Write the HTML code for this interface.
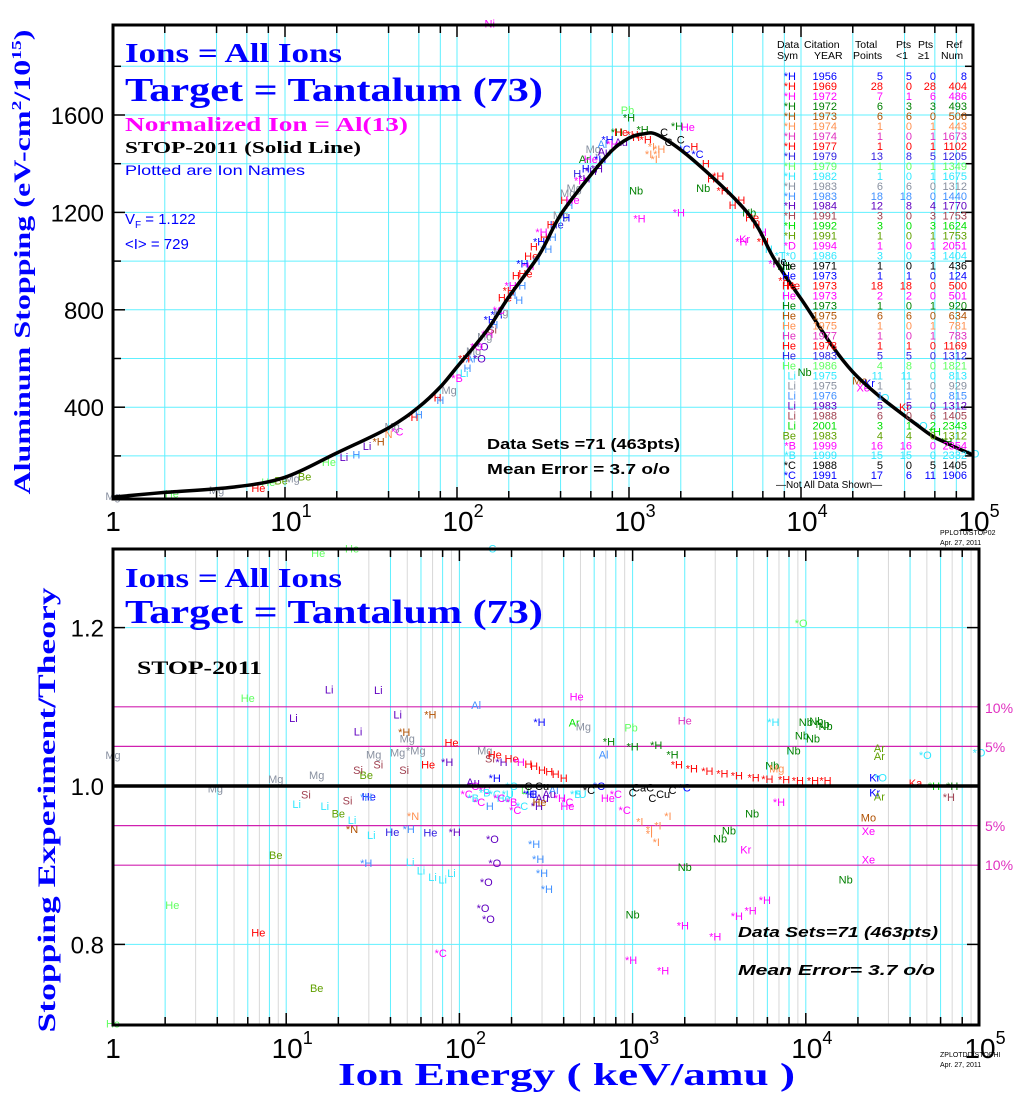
<!DOCTYPE html>
<html><head><meta charset="utf-8"><style>
html,body{margin:0;padding:0;background:#fff;}
svg{display:block;}
text{font-family:"Liberation Sans",sans-serif;}
.serif{font-family:"Liberation Serif",serif;font-weight:bold;}
</style></head><body>
<svg id="chart" width="1023" height="1099" viewBox="0 0 1023 1099" xmlns="http://www.w3.org/2000/svg">
<g id="grid"></g>
<g id="marks"></g>
<g id="frames"></g>
<g id="texts">
<text class="serif" x="125" y="62" font-size="27" fill="#0000ff" textLength="217" lengthAdjust="spacingAndGlyphs">Ions = All Ions</text>
<text class="serif" x="125" y="101" font-size="34" fill="#0000ff" textLength="418" lengthAdjust="spacingAndGlyphs">Target = Tantalum (73)</text>
<text class="serif" x="125" y="131" font-size="20" fill="#ff00ff" textLength="283" lengthAdjust="spacingAndGlyphs">Normalized Ion = Al(13)</text>
<text class="serif" x="125" y="153" font-size="17" fill="#000" textLength="236" lengthAdjust="spacingAndGlyphs">STOP-2011 (Solid Line)</text>
<text x="125" y="175" font-size="14" fill="#0000ff" textLength="180" lengthAdjust="spacingAndGlyphs">Plotted are Ion Names</text>
<text x="125" y="224" font-size="15" fill="#0000ff">V<tspan font-size="10" dy="4">F</tspan><tspan dy="-4"> = 1.122</tspan></text>
<text x="125" y="249" font-size="15" fill="#0000ff">&lt;I&gt; = 729</text>
<text x="487" y="449" font-size="15" fill="#000" font-weight="bold" textLength="193" lengthAdjust="spacingAndGlyphs">Data Sets =71 (463pts)</text>
<text x="487" y="474" font-size="15" fill="#000" font-weight="bold" textLength="183" lengthAdjust="spacingAndGlyphs">Mean Error =  3.7 o/o</text>
<text class="serif" transform="translate(30,262) rotate(-90)" text-anchor="middle" font-size="23" fill="#0000ff" textLength="465" lengthAdjust="spacingAndGlyphs">Aluminum Stopping (eV-cm<tspan font-size="14" dy="-9">2</tspan><tspan dy="9">/10</tspan><tspan font-size="14" dy="-9">15</tspan><tspan dy="9">)</tspan></text>
<text font-size="7" x="940" y="535" fill="#000">PPLOT0/STOP02</text>
<text font-size="7" x="940" y="545" fill="#000">Apr. 27, 2011</text>

<text class="serif" x="125" y="587" font-size="27" fill="#0000ff" textLength="217" lengthAdjust="spacingAndGlyphs">Ions = All Ions</text>
<text class="serif" x="125" y="623" font-size="34" fill="#0000ff" textLength="418" lengthAdjust="spacingAndGlyphs">Target = Tantalum (73)</text>
<text class="serif" x="137" y="674" font-size="19" fill="#000" textLength="125" lengthAdjust="spacingAndGlyphs">STOP-2011</text>
<text x="738" y="937" font-size="15" font-style="italic" font-weight="bold" fill="#000" textLength="200" lengthAdjust="spacingAndGlyphs">Data Sets=71 (463pts)</text>
<text x="738" y="975" font-size="15" font-style="italic" font-weight="bold" fill="#000" textLength="197" lengthAdjust="spacingAndGlyphs">Mean Error=  3.7 o/o</text>
<text class="serif" transform="translate(55,810) rotate(-90)" text-anchor="middle" font-size="25" fill="#0000ff" textLength="445" lengthAdjust="spacingAndGlyphs">Stopping  Experiment/Theory</text>
<text class="serif" x="338" y="1085" font-size="32" fill="#0000ff" textLength="457" lengthAdjust="spacingAndGlyphs">Ion  Energy  ( keV/amu )</text>
<text font-size="7" x="940" y="1057" fill="#000">ZPLOTDD/STOPHI</text>
<text font-size="7" x="940" y="1067" fill="#000">Apr. 27, 2011</text>
<text x="985" y="713" font-size="14" fill="#e030c0">10%</text>
<text x="985" y="752" font-size="14" fill="#e030c0">5%</text>
<text x="985" y="831" font-size="14" fill="#e030c0">5%</text>
<text x="985" y="870" font-size="14" fill="#e030c0">10%</text>
</g>
<g id="legend"></g>
</svg>
<script>
var NS="http://www.w3.org/2000/svg";
// ---- data ----
var curveE=[1,2,5,10,20,40,60,80,100,150,200,300,400,600,800,1000,1200,1500,2500,5000,7000,10000,20000,50000,70000,100000];
var curveV=[31,50,72,112,212,315,401,483,565,717,853,1025,1190,1354,1456,1505,1522,1515,1400,1190,1008,845,545,314,253,204];
var yTicksTop=[400,800,1200,1600];
var yTicksBottom=[0.8,1.0,1.2];
var pctLines=[1.10,1.05,0.95,0.90];
var xTickExp=[0,1,2,3,4,5];
var B='#0000ff',R='#ff0000',M='#ff00ff',G='#008000',BR='#b05000',OR='#ff9050',PM='#e030c0',BV='#3020e0',LG='#60ff60',CY='#30e8ff',GR='#8890a0',CB='#4090ff',PU='#6000c0',RO='#a04050',LM='#00e000',OL='#60a000',K='#000000';
var topE=[1,2.2,4,7,8,9.5,13,11,18,22,26,30,35,40,45,42,55,60,75,80,90,100,110,120,125,135,140,150,160,170,180,200,210,230,250,260,280,300,320,330,380,400,420,450,480,500,550,550,600,620,650,700,750,850,900,980,1000,1100,1200,1300,1400,1500,1600,1900,2200,2000,2400,2500,1100,1150,1950,2700,3000,3500,4000,4500,4700,5000,5500,6000,6500,7000,7500,8000,9000,10500,22000,23000,25000,30000,40000,50000,60000,70000,100000,155,
110,115,130,145,155,165,175,190,205,220,240,240,270,290,310,350,360,420,440,470,520,560,600,680,720,800,900,1050,1250,1350,1450,1700,2100,2800,3300,4500,5200,6000,8000];
var topV=[36,45,60,68,92,100,115,108,175,195,205,240,260,290,300,320,360,370,440,430,470,520,540,600,630,600,650,700,720,780,790,880,860,840,950,980,1060,1080,1100,1050,1150,1190,1250,1230,1300,1360,1340,1420,1420,1460,1380,1480,1500,1530,1490,1620,1590,1510,1540,1440,1420,1460,1530,1555,1550,1500,1470,1440,1290,1175,1200,1300,1340,1290,1230,1080,1090,1200,1150,1080,1050,990,1000,980,900,545,510,480,500,440,400,325,300,260,210,1975,
600,560,650,690,760,740,800,850,900,940,900,990,1020,1000,1120,1150,1100,1180,1280,1250,1330,1380,1370,1420,1450,1480,1530,1520,1500,1470,1440,1490,1460,1400,1350,1250,1180,1120,920];
var topLbl=['Mg','He','Mg','He','He','Be','Be','Mg','He','Li','H','Li','*H','N','*C','Mg','*H','H','*H','H','Mg','*B','Li','Al','Mg','*O','*O','*H','Si','*H','Mg','*H','H','H','He','*H','H','*H','H','*H','He','Mg','H','H','Mg','H','*H','Ar','He','Mg','*H','Al','*H','*H','Au','Pb','*H','H','*H','*I','*I','*H','C','*H','He','C','H','*C','Nb','*H','*H','Nb','H','*H','H','*H','Kr','Nb','H','*H','H','*H','He','Nb','He','Nb','Mo','Xe','Kr','*O','Kr','*O','*H','*H','*O','Ni',
'*H','H','*O','Mg','*H','H','*C','He','*H','H','H','*H','He','H','*H','H','H','*H','Mg','He','*H','H','*H','*H','Au','*H','He','*H','*H','*I','*I','C','*C','H','*H','H','He','H','*H'];
var topCol=[GR,LG,GR,R,LG,OL,OL,GR,LG,PU,CB,PU,BR,OR,M,GR,R,CB,R,CB,GR,M,CY,CB,GR,PU,PU,M,RO,B,GR,R,CB,CB,R,M,R,B,R,CB,BV,GR,R,CB,GR,BV,PU,G,M,GR,PU,CB,B,G,PU,LG,G,R,G,OR,OR,OR,K,G,M,K,R,B,G,M,M,G,R,R,R,M,M,G,R,R,CY,M,K,G,R,G,BR,M,B,CY,R,CY,LM,G,CY,M,
R,CB,M,GR,B,CB,M,R,M,R,CB,B,R,CB,M,R,CB,B,GR,M,M,B,PU,B,PU,M,R,R,R,OR,OR,K,B,R,R,R,R,M,R];
var botE=[15.3,24,6,17.7,34,11,26,44,68,48,1,3.9,8.7,15,29,30,13,11.5,16.7,22.6,29,20,24,24,31,41,51,68,94,54,26,34,32,44,48,50,56,66,90,85,125,140,150,160,175,200,220,250,270,300,330,360,400,9400,475,2000,6500,10000,11500,12500,13000,9500,11000,8500,460,520,290,980,730,1000,1370,1700,680,26600,26600,49000,100000,6400,6800,25000,27000,43000,55000,70000,25000,26600,67000,23000,23000,4900,3600,3200,7000,1800,2200,2700,3300,4000,5000,6000,7500,9000,11000,13000,1000,1150,1300,1500,1700,2000,1100,1250,1400,1600,8.7,2.2,6.9,15,1,78,137,147,143,160,155,29,52,60,70,80,90,270,285,300,320,1000,2000,17000,980,1500,1950,3000,4000,4800,5800,4500,23000,1370,1250,250,280,120,140,160,180,200,230,260,300,350,420,500,560,640,720,800,900,155,
110,120,130,140,150,170,190,210,240,260,290,330,380,420,470,120,160,200,250,300,600,700,1200];
var botR=[1.294,1.30,1.111,1.122,1.121,1.086,1.069,1.09,1.09,1.068,1.039,0.997,1.009,1.014,1.014,0.987,0.989,0.977,0.975,0.982,0.986,0.965,0.957,0.946,0.938,0.942,0.946,0.941,0.942,0.962,1.020,1.027,1.040,1.042,1.020,1.060,1.045,1.027,1.055,1.030,1.102,1.045,1.035,1.040,1.030,1.035,1.030,1.028,1.025,1.020,1.018,1.015,1.010,1.206,1.113,1.083,1.081,1.081,1.082,1.078,1.076,1.064,1.060,1.045,1.08,1.075,1.081,1.074,1.056,1.05,1.052,1.040,1.040,1.048,1.038,1.039,1.042,1.026,1.022,1.011,1.011,1.004,1.000,1.000,0.992,0.987,0.986,0.960,0.943,0.965,0.944,0.934,0.980,1.027,1.022,1.019,1.016,1.013,1.011,1.009,1.008,1.007,1.007,1.007,0.992,0.998,0.985,0.990,0.995,0.998,0.955,0.940,0.950,0.962,0.913,0.850,0.815,0.745,0.700,0.789,0.846,0.832,0.879,0.903,0.933,0.903,0.904,0.893,0.885,0.882,0.890,0.927,0.908,0.890,0.870,0.838,0.898,0.882,0.780,0.767,0.824,0.810,0.836,0.843,0.856,0.920,0.907,0.929,0.945,0.990,0.975,1.000,0.995,0.990,0.985,0.980,0.975,0.990,0.985,0.995,0.980,0.990,0.995,1.000,0.985,0.990,0.970,1.30,
0.99,0.985,0.98,0.992,0.975,0.985,0.99,0.97,0.995,0.99,0.98,0.99,0.985,0.975,0.99,1.005,1.01,1.0,1.0,1.0,0.99,0.995,0.99];
var botLbl=['He','He','He','Li','Li','Li','Li','Li','*H','*H','Mg','Mg','Mg','Mg','Be','He','Si','Li','Li','Si','*H','Be','Li','*N','Li','He','*H','He','*H','*N','Si','Si','Mg','Mg','Si','Mg','*Mg','He','He','*H','Al','Mg','Si','He','*H','He','*H','H','H','H','H','H','H','*O','He','He','*H','Nb','Nb','Nb','Nb','Nb','Nb','Nb','Ar','Mg','*H','Pb','*H','*H','*H','*H','Al','Ar','Ar','*O','*O','Nb','Mg','Kr','*O','Ka','*H','*H','Kr','Ar','*H','Mo','Xe','Nb','Nb','Nb','*H','*H','*H','*H','*H','*H','*H','*H','*H','*H','*H','*H','C','CaC','C','Cu','C','*C','*I','*I','*I','*I','Be','He','He','Be','He','*C','*O','*O','*O','*O','*O','*H','Li','Li','Li','Li','Li','*H','*H','*H','*H','Nb','Nb','Nb','*H','*H','*H','*H','*H','*H','*H','Kr','Xe','*I','*I','*H','*H','*C','*C','*C','He','*B','*C','*H','Au','Al','*C','*U','*C','*C','He',
'*C','*C','C','*C','*B','*C','*B','H','*C','*U','*C','Li','*C','He','Au','*H','He','*B','Au','*H','*C','C','Cu'];
var botCol=[LG,LG,LG,PU,PU,PU,PU,PU,BR,BR,GR,GR,GR,GR,OL,B,RO,CY,CY,RO,CB,OL,CY,BR,CY,BV,CB,BV,PU,OR,RO,RO,GR,GR,RO,GR,GR,R,R,PU,CB,GR,RO,R,PU,R,M,R,R,R,R,R,R,LG,M,PM,CY,G,G,G,G,G,G,G,LM,GR,B,LG,G,G,G,G,CB,OL,OL,CY,CY,G,OR,B,CY,R,LM,G,B,OL,RO,BR,M,G,G,G,M,R,R,R,R,R,R,R,R,R,R,R,K,K,K,K,K,B,OR,OR,OR,OR,OL,LG,R,OL,LG,M,PU,PU,PU,PU,PU,CB,CY,CY,CY,CY,CY,CB,CB,CB,CB,G,G,G,M,M,M,M,M,M,M,M,M,OR,OR,BV,PU,M,M,CY,CY,M,CY,B,PU,CB,M,CY,K,B,M,
M,M,CY,M,CY,M,CY,CB,M,CY,M,LG,B,BR,PU,M,M,CY,PU,B,CY,K,K];
// legend
var legSym=['*H','*H','*H','*H','*H','*H','*H','*H','*H','*H','*H','*H','*H','*H','*H','*H','*H','*D','*T*0','He','He','He','He','He','He','He','He','He','He','He','Li','Li','Li','Li','Li','Li','Be','*B','*B','*C','*C'];
var legYear=['1956','1969','1972','1972','1973','1974','1974','1977','1979','1979','1982','1983','1983','1984','1991','1992','1991','1994','1986','1971','1973','1973','1973','1973','1975','1975','1977','1978','1983','1986','1975','1975','1976','1983','1988','2001','1983','1999','1999','1988','1991'];
var legTot=['5','28','7','6','6','1','1','1','13','1','1','6','18','12','3','3','1','1','3','1','1','18','2','1','6','1','1','1','5','4','11','1','1','5','6','3','4','16','15','5','17'];
var legLt=['5','0','1','3','6','0','0','0','8','0','0','6','18','8','0','0','0','0','0','0','1','18','2','0','6','0','0','1','5','8','11','1','1','5','0','1','4','16','15','0','6'];
var legGe=['0','28','6','3','0','1','1','1','5','1','1','0','0','4','3','3','1','1','3','1','0','0','0','1','0','1','1','0','0','0','0','0','0','0','6','2','0','0','0','5','11'];
var legRef=['8','404','486','493','506','443','1673','1102','1205','1349','1675','1312','1440','1770','1753','1624','1753','2051','1404','436','124','500','501','920','634','781','783','1169','1312','1821','813','929','815','1312','1405','2343','1312','2354','2332','1405','1906'];
var legCol=[B,R,M,G,BR,OR,PM,R,BV,LG,CY,GR,CB,PU,RO,LM,OL,M,CY,K,B,R,M,G,BR,OR,PM,R,BV,LG,CY,GR,CB,PU,RO,LM,OL,M,CY,K,B];

// ---- axes ----
function xT(e){return 113+Math.log10(e)*172;}
function yT(v){return 115+(1600-v)*0.2435;}
function xB(e){return 113+Math.log10(e)*173.2;}
function yB(r){return 786-(r-1)*792;}
function mk(tag,attrs,parent){var el=document.createElementNS(NS,tag);for(var k in attrs)el.setAttribute(k,attrs[k]);parent.appendChild(el);return el;}
var grid=document.getElementById('grid'),marks=document.getElementById('marks'),frames=document.getElementById('frames'),legend=document.getElementById('legend');
var CYAN='#60f0ff';
for(var d=0;d<5;d++){for(var m=2;m<=10;m++){var e=Math.pow(10,d)*m;var x=xT(e);
 if(m%2===0){var l=mk('line',{x1:x,y1:25,x2:x,y2:499,stroke:CYAN,'stroke-width':1},grid);
 
 
 mk('line',{x1:x,y1:25,x2:x,y2:(m===10?37:33),stroke:'#000','stroke-width':1.5},frames);
 mk('line',{x1:x,y1:499,x2:x,y2:(m===10?487:491),stroke:'#000','stroke-width':1.5},frames);}
}}
for(var v=200;v<=1800;v+=200){var y=yT(v);var l=mk('line',{x1:113,y1:y,x2:973,y2:y,stroke:CYAN,'stroke-width':1},grid);
 
 
 mk('line',{x1:113,y1:y,x2:(v%400===0?125:121),y2:y,stroke:'#000','stroke-width':1.5},frames);
 mk('line',{x1:973,y1:y,x2:(v%400===0?961:965),y2:y,stroke:'#000','stroke-width':1.5},frames);}
for(var d=0;d<5;d++){for(var m=2;m<=10;m++){var e=Math.pow(10,d)*m;var x=xB(e);
 var col=(m%2===0)?CYAN:'#d8d8d8';
 var l=mk('line',{x1:x,y1:549,x2:x,y2:1025,stroke:col,'stroke-width':1},grid);
 
 
 if(m%2===0){mk('line',{x1:x,y1:549,x2:x,y2:(m===10?561:557),stroke:'#000','stroke-width':1.5},frames);
 mk('line',{x1:x,y1:1025,x2:x,y2:(m===10?1013:1017),stroke:'#000','stroke-width':1.5},frames);}
}}
yTicksBottom.forEach(function(r){var y=yB(r);
 if(r!==1){var l=mk('line',{x1:113,y1:y,x2:979,y2:y,stroke:CYAN,'stroke-width':1},grid);
 
 }
 mk('line',{x1:113,y1:y,x2:125,y2:y,stroke:'#000','stroke-width':1.5},frames);
 mk('line',{x1:979,y1:y,x2:967,y2:y,stroke:'#000','stroke-width':1.5},frames);
 var t=mk('text',{x:104,y:y+9,'text-anchor':'end','font-size':24,fill:'#000'},frames);t.textContent=r.toFixed(1);
 
 
});
pctLines.forEach(function(r){var l=mk('line',{x1:113,y1:yB(r),x2:979,y2:yB(r),stroke:'#d020b0','stroke-width':1.2},grid);
 
 });
var unity=mk('line',{x1:113,y1:yB(1),x2:979,y2:yB(1),stroke:'#000','stroke-width':3.5},frames);


var f1=mk('rect',{x:113,y:25,width:860,height:474,fill:'none',stroke:'#000','stroke-width':3},frames);


var f2=mk('rect',{x:113,y:549,width:866,height:476,fill:'none',stroke:'#000','stroke-width':3},frames);


yTicksTop.forEach(function(v){var t=mk('text',{x:104,y:yT(v)+9,'text-anchor':'end','font-size':24,fill:'#000'},frames);t.textContent=String(v);
 
 });
function xlab(x,y,p,name){var t=mk('text',{x:x,y:y,'text-anchor':'middle','font-size':28,fill:'#000'},frames);
 if(p===0){t.textContent='1';}else{t.textContent='10';var s=mk('tspan',{'font-size':18,dy:-14},t);s.textContent=String(p);}
 
 }
xTickExp.forEach(function(p){xlab(xT(Math.pow(10,p))+(p?6:0),531,p,'top-x-tick-label');xlab(xB(Math.pow(10,p))+(p?6:0),1058,p,'bottom-x-tick-label');});
function pts(E,V,L,C,fx,fy,name){for(var i=0;i<E.length;i++){var t=mk('text',{x:fx(E[i]),y:fy(V[i])+4,'text-anchor':'middle','font-size':11,fill:C[i]},marks);t.textContent=L[i];
 
 }}
pts(topE,topV,topLbl,topCol,xT,yT,'top-data-point');
pts(botE,botR,botLbl,botCol,xB,yB,'ratio-data-point');
var P=curveE.map(function(e,i){return [xT(e),yT(curveV[i])];});
var d='M'+P[0][0].toFixed(1)+','+P[0][1].toFixed(1);
for(var i=0;i<P.length-1;i++){var p0=P[Math.max(0,i-1)],p1=P[i],p2=P[i+1],p3=P[Math.min(P.length-1,i+2)];
 var c1x=p1[0]+(p2[0]-p0[0])/6,c1y=p1[1]+(p2[1]-p0[1])/6,c2x=p2[0]-(p3[0]-p1[0])/6,c2y=p2[1]-(p3[1]-p1[1])/6;
 d+='C'+c1x.toFixed(1)+','+c1y.toFixed(1)+' '+c2x.toFixed(1)+','+c2y.toFixed(1)+' '+p2[0].toFixed(1)+','+p2[1].toFixed(1);}
var c=mk('path',{d:d,fill:'none',stroke:'#000','stroke-width':3.5,'stroke-linejoin':'round'},marks);


var hdr=[['Data',777,48],['Sym',777,59],['Citation',804,48],['YEAR',814,59],['Total',855,48],['Points',853,59],['Pts',896,48],['<1',896,59],['Pts',918,48],['≥1',918,59],['Ref',946,48],['Num',941,59]];
hdr.forEach(function(h){var t=mk('text',{x:h[1],y:h[2],'font-size':10.5,fill:'#000'},legend);t.textContent=h[0];
 
 });
for(var i=0;i<legSym.length;i++){var y=80+i*9.98;var cols=[[legSym[i],796],[legYear[i],837],[legTot[i],883],[legLt[i],912],[legGe[i],936],[legRef[i],967]];
 cols.forEach(function(cc){var t=mk('text',{x:cc[1],y:y,'text-anchor':'end','font-size':11,fill:legCol[i]},legend);t.textContent=cc[0];
 
 });}
var nt=mk('text',{x:776,y:488,'font-size':10,fill:'#000'},legend);nt.textContent='—Not All Data Shown—';


</script>
</body></html>
